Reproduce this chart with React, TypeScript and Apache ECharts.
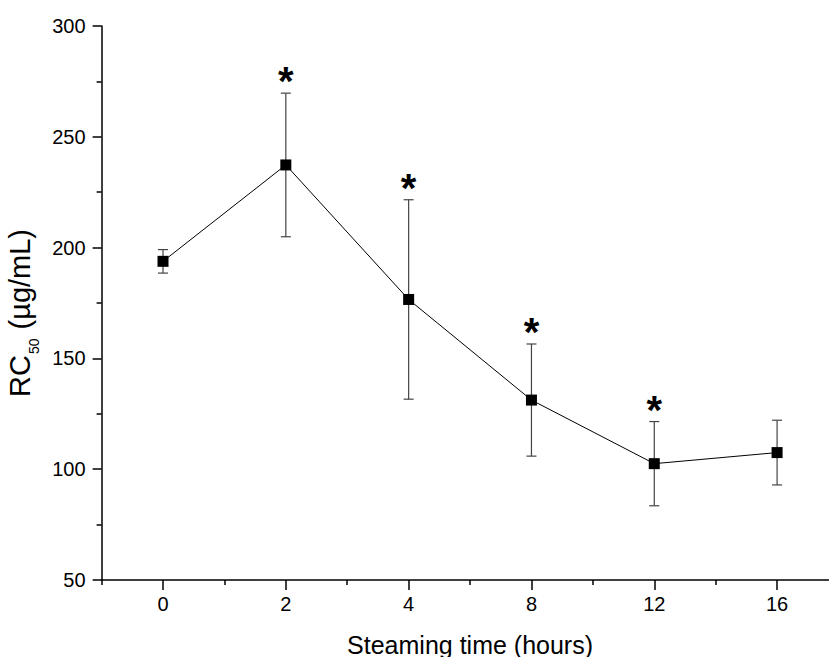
import React, { useEffect, useRef } from 'react';
import * as echarts from 'echarts';

const categories = ['0', '2', '4', '8', '12', '16'];
const means = [193.8, 237.3, 176.6, 131.2, 102.5, 107.5];
const errors = [5.3, 32.4, 45.0, 25.3, 19.0, 14.6];
const significant = [false, true, true, true, true, false];

const FONT = '"Liberation Sans", Arial, Helvetica, sans-serif';

export default function App() {
  const ref = useRef<HTMLDivElement>(null);

  useEffect(() => {
    document.body.style.margin = '0';
    document.body.style.overflow = 'hidden';
    document.documentElement.style.overflow = 'hidden';
    const chart = echarts.init(ref.current as HTMLDivElement, null, { renderer: 'svg' });

    const errData = categories.map((_, i) => [
      i,
      means[i] - errors[i],
      means[i] + errors[i],
      significant[i] ? 1 : 0,
    ]);

    const axisLine = { show: true, lineStyle: { color: '#000', width: 1.5 } };

    const option: any = {
      animation: false,
      backgroundColor: '#fff',
      grid: {
        left: 101.6,
        top: 26,
        right: -9.5,
        bottom: 77,
        containLabel: false,
        outerBoundsMode: 'none',
      },
      xAxis: [
        {
          type: 'category',
          data: categories,
          position: 'bottom',
          boundaryGap: true,
          axisLine,
          axisTick: { show: true, length: 5, lineStyle: { color: '#000', width: 1.5 } },
          axisLabel: { show: false },
          splitLine: { show: false },
        },
        {
          type: 'category',
          data: categories,
          position: 'bottom',
          boundaryGap: true,
          axisLine: { show: false },
          axisTick: { show: true, alignWithLabel: true, length: 10, lineStyle: { color: '#000', width: 1.5 } },
          axisLabel: { color: '#000', fontSize: 20, fontFamily: FONT, margin: 14 },
          splitLine: { show: false },
          name: 'Steaming time (hours)',
          nameLocation: 'middle',
          nameGap: 52,
          nameTextStyle: { color: '#000', fontSize: 25, fontFamily: FONT },
        },
      ],
      yAxis: {
        type: 'value',
        min: 50,
        max: 300,
        interval: 50,
        axisLine,
        axisTick: { show: true, length: 9, lineStyle: { color: '#000', width: 1.5 } },
        minorTick: { show: true, splitNumber: 2, length: 5, lineStyle: { color: '#000', width: 1.5 } },
        splitLine: { show: false },
        minorSplitLine: { show: false },
        axisLabel: { color: '#000', fontSize: 20, fontFamily: FONT, margin: 16 },
        name: '{a|RC}{sub|50}{a| (µg/mL)}',
        nameLocation: 'middle',
        nameRotate: 90,
        nameGap: 60,
        nameTextStyle: {
          color: '#000',
          fontFamily: FONT,
          padding: [0, 20, 0, 0],
          rich: {
            a: { fontSize: 29, fontFamily: FONT, color: '#000', lineHeight: 31 },
            sub: { fontSize: 14, fontFamily: FONT, color: '#000', verticalAlign: 'bottom', lineHeight: 14, padding: [0, 1, -6, 1] },
          },
        },
      },
      series: [
        {
          type: 'custom',
          xAxisIndex: 1,
          data: errData,
          encode: { x: 0, y: [1, 2] },
          z: 1,
          renderItem: (params: any, api: any) => {
            const idx = api.value(0);
            const pLo = api.coord([idx, api.value(1)]);
            const pHi = api.coord([idx, api.value(2)]);
            const x = pLo[0];
            const half = 5;
            const st = { stroke: '#444', lineWidth: 1.2 };
            const children: any[] = [
              { type: 'line', shape: { x1: x, y1: pLo[1], x2: x, y2: pHi[1] }, style: st },
              { type: 'line', shape: { x1: x - half, y1: pHi[1], x2: x + half, y2: pHi[1] }, style: st },
              { type: 'line', shape: { x1: x - half, y1: pLo[1], x2: x + half, y2: pLo[1] }, style: st },
            ];
            if (api.value(3)) {
              children.push({
                type: 'text',
                x,
                y: pHi[1] - 12,
                style: {
                  text: '*',
                  fontSize: 40,
                  fontWeight: 'bold',
                  fontFamily: FONT,
                  fill: '#000',
                  align: 'center',
                  verticalAlign: 'middle',
                },
              });
            }
            return { type: 'group', children };
          },
        },
        {
          type: 'line',
          xAxisIndex: 1,
          data: means,
          symbol: 'rect',
          symbolSize: 11,
          itemStyle: { color: '#000' },
          lineStyle: { color: '#000', width: 1 },
          z: 3,
        },
      ],
    };

    chart.setOption(option);
    return () => chart.dispose();
  }, []);

  return <div ref={ref} style={{ width: 829, height: 657, overflow: 'hidden' }} />;
}
